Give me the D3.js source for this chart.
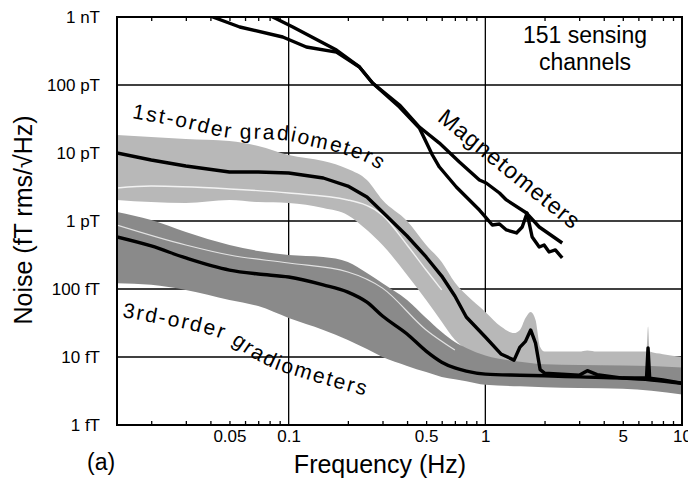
<!DOCTYPE html>
<html>
<head>
<meta charset="utf-8">
<script src="https://cdn.jsdelivr.net/npm/d3@7"></script>
<style>
  body { margin: 0; background: #fff; }
  svg { display: block; font-family: "Liberation Sans", Arial, Helvetica, sans-serif; }
</style>
</head>
<body>
<svg width="688" height="478"></svg>
<script>
// ---- data (frequency in Hz, noise in fT/sqrt(Hz)) ----

// 1st-order gradiometers: spread of channels + average
const g1Freq  = [0.0134, 0.02, 0.03, 0.05, 0.07, 0.1, 0.15, 0.2, 0.25, 0.3, 0.4, 0.5, 0.6, 0.7, 0.8, 1.0, 1.2, 1.4, 1.5, 1.6, 1.7, 1.8, 1.9, 2.0, 3.0, 3.3, 3.7, 5.0, 6.6, 6.72, 6.85, 8.0, 10]
const g1Upper = [18400, 17200, 16100, 15000, 12700, 9350, 7630, 5820, 4010, 2040, 1000, 444, 250, 125, 82, 46, 28, 22.5, 25, 37.5, 46, 35, 14, 12, 12, 12.5, 12, 12, 12, 28, 12, 11, 10]
const g1Lower = [2040, 1900, 1840, 2040, 1900, 1840, 1550, 1220, 738, 444, 161, 69, 33, 18, 12.7, 6, 4.5, 4.1, 4.1, 4.1, 4.1, 4.0, 4.0, 4.0, 3.8, 3.8, 3.7, 3.6, 3.5, 3.5, 3.5, 3.4, 3.3]
const g1Mean  = [10000, 7890, 6440, 5260, 5260, 5080, 4290, 3270, 2260, 1360, 602, 296, 155, 79, 38.7, 19.7, 11.1, 9.0, 14, 17, 25, 16, 6.5, 5.8, 5.4, 6.3, 5.5, 4.9, 4.9, 13.6, 4.9, 4.6, 4.1]

// 3rd-order gradiometers
const g3Freq  = [0.0134, 0.02, 0.03, 0.05, 0.07, 0.1, 0.15, 0.2, 0.25, 0.3, 0.4, 0.5, 0.6, 0.7, 0.8, 1.0, 1.5, 2.0, 3.0, 5.0, 7.0, 10]
const g3Upper = [1360, 1035, 689, 444, 362, 316, 296, 250, 172, 122, 69, 37.5, 23.3, 16.6, 13.6, 10.5, 8.5, 7.8, 7.6, 7.5, 7.4, 7.0]
const g3Lower = [122, 115, 97, 69, 56, 37.5, 25, 17.8, 13.1, 10, 7.4, 6.0, 5.1, 4.7, 4.4, 3.9, 3.7, 3.6, 3.5, 3.4, 3.2, 2.8]
const g3Mean  = [582, 429, 286, 190, 166, 150, 115, 90, 64, 40, 21.8, 12.2, 8.4, 6.9, 6.2, 5.6, 5.4, 5.3, 5.1, 4.9, 4.6, 4.1]

// a couple of individual channel traces showing as light streaks inside the spreads
const w1Freq = [0.0134, 0.02, 0.05, 0.1, 0.2, 0.3, 0.4, 0.5, 0.6]
const w1Val  = [3060, 3270, 2960, 2580, 2040, 1220, 444, 190, 97]
const w3Freq = [0.0134, 0.03, 0.05, 0.1, 0.2, 0.3, 0.5, 0.7]
const w3Val  = [873, 444, 316, 241, 178, 103, 25, 12.7]

// magnetometers (two traces)
const mag1Freq = [0.035, 0.0411, 0.0564, 0.0933, 0.123, 0.175, 0.229, 0.267, 0.366, 0.462, 0.538, 0.584, 0.712, 0.933, 1.0, 1.085, 1.18, 1.28, 1.44, 1.54, 1.63, 1.73, 1.88, 1.99, 2.11, 2.27, 2.46]
const mag1Val  = [1.18e6, 1.0e6, 713000, 508000, 362000, 305000, 184000, 107000, 47500, 23300, 9350, 6220, 3160, 1450, 1150, 873, 903, 738, 667, 816, 1310, 582, 415, 444, 350, 375, 286]
const mag2Freq = [0.075, 0.083, 0.105, 0.175, 0.229, 0.267, 0.366, 0.462, 0.584, 0.738, 0.933, 1.01, 1.18, 1.28, 1.62, 1.88, 2.46]
const mag2Val  = [1.2e6, 1.0e6, 713000, 327000, 184000, 107000, 50800, 24100, 14000, 7380, 4010, 3620, 2580, 2040, 1310, 816, 475]

// axes
const xTickVals   = [0.05, 0.1, 0.5, 1, 5, 10]
const xTickLabels = ['0.05', '0.1', '0.5', '1', '5', '10']
const yTickVals   = [1, 10, 100, 1e3, 1e4, 1e5, 1e6]
const yTickLabels = ['1 fT', '10 fT', '100 fT', '1 pT', '10 pT', '100 pT', '1 nT']
const xGridVals   = [0.1, 1]

// curved labels, anchored in data coordinates [Hz, fT]
const label1Anchors   = [[0.01596, 32700], [0.028, 24100], [0.0502, 16600], [0.0713, 16100], [0.1012, 15000], [0.128, 12700], [0.1815, 10000], [0.258, 6890], [0.345, 3750]]
const label3Anchors   = [[0.0142, 38.7], [0.0197, 32.7], [0.0314, 24.9], [0.0473, 17.8], [0.0634, 10.3], [0.0849, 6.66], [0.1138, 5.08], [0.1616, 3.75], [0.27, 2.49]]
const labelMagAnchors = [[0.564, 30600], [2.765, 738]]

// ---- drawing ----
const svg = d3.select('svg')
const plot = { left: 117, right: 682, top: 17, bottom: 425 }

const x = d3.scaleLog().domain([0.0134, 10]).range([plot.left, plot.right])
const y = d3.scaleLog().domain([1, 1e6]).range([plot.bottom, plot.top])

const defs = svg.append('defs')
defs.append('clipPath').attr('id', 'plot-clip')
  .append('rect')
  .attr('x', plot.left).attr('y', plot.top)
  .attr('width', plot.right - plot.left).attr('height', plot.bottom - plot.top)

// grid
const grid = svg.append('g').attr('stroke', '#000').attr('stroke-width', 1.3)
grid.selectAll('line.h')
  .data(yTickVals.slice(1, -1))
  .enter().append('line')
  .attr('class', 'h')
  .attr('x1', plot.left).attr('x2', plot.right)
  .attr('y1', d => y(d)).attr('y2', d => y(d))
grid.selectAll('line.v')
  .data(xGridVals)
  .enter().append('line')
  .attr('class', 'v')
  .attr('x1', d => x(d)).attr('x2', d => x(d))
  .attr('y1', plot.top).attr('y2', plot.bottom)

const data = svg.append('g').attr('clip-path', 'url(#plot-clip)')

function zipBand(freq, lo, hi) {
  return freq.map((f, i) => ({ f: f, lo: lo[i], hi: hi[i] }))
}
function zipLine(freq, vals) {
  return freq.map((f, i) => ({ f: f, v: vals[i] }))
}

const band = d3.area()
  .x(d => x(d.f))
  .y0(d => y(d.lo))
  .y1(d => y(d.hi))
  .curve(d3.curveMonotoneX)

const smooth = d3.line().x(d => x(d.f)).y(d => y(d.v)).curve(d3.curveMonotoneX)
const jagged = d3.line().x(d => x(d.f)).y(d => y(d.v))

data.append('path')
  .attr('d', band(zipBand(g1Freq, g1Lower, g1Upper)))
  .attr('fill', '#b8b8b8')

data.append('path')
  .attr('d', band(zipBand(g3Freq, g3Lower, g3Upper)))
  .attr('fill', '#8a8a8a')

// light streaks of single channels
data.append('path')
  .attr('d', smooth(zipLine(w1Freq, w1Val)))
  .attr('fill', 'none').attr('stroke', '#f2f2f2').attr('stroke-width', 1.4)
data.append('path')
  .attr('d', smooth(zipLine(w3Freq, w3Val)))
  .attr('fill', 'none').attr('stroke', '#e2e2e2').attr('stroke-width', 1.2)

// averages
data.append('path')
  .attr('d', smooth(zipLine(g3Freq, g3Mean)))
  .attr('fill', 'none').attr('stroke', '#000').attr('stroke-width', 3.4)
data.append('path')
  .attr('d', jagged(zipLine(g1Freq, g1Mean)))
  .attr('fill', 'none').attr('stroke', '#000').attr('stroke-width', 3.4)
  .attr('stroke-linejoin', 'round')

// magnetometers
data.selectAll('path.mag')
  .data([zipLine(mag1Freq, mag1Val), zipLine(mag2Freq, mag2Val)])
  .enter().append('path')
  .attr('class', 'mag')
  .attr('d', d => jagged(d))
  .attr('fill', 'none').attr('stroke', '#000').attr('stroke-width', 3.4)
  .attr('stroke-linejoin', 'round')

// frame
svg.append('rect')
  .attr('x', plot.left).attr('y', plot.top)
  .attr('width', plot.right - plot.left).attr('height', plot.bottom - plot.top)
  .attr('fill', 'none').attr('stroke', '#000').attr('stroke-width', 2)

// minor ticks, inward on bottom and top
let minorTicks = []
;[0.01, 0.1, 1].forEach(dec => {
  for (let k = 2; k <= 9; k++) minorTicks.push(k * dec)
})
minorTicks = minorTicks.filter(v => v > x.domain()[0] && v < x.domain()[1])

svg.append('g')
  .attr('transform', `translate(0,${plot.bottom})`)
  .call(d3.axisBottom(x).tickValues(minorTicks).tickSize(-4).tickFormat(''))
  .call(g => g.select('.domain').remove())
  .selectAll('line').attr('stroke-width', 1.3)

svg.append('g')
  .attr('transform', `translate(0,${plot.top})`)
  .call(d3.axisTop(x).tickValues(minorTicks).tickSize(-4).tickFormat(''))
  .call(g => g.select('.domain').remove())
  .selectAll('line').attr('stroke-width', 1.3)

// tick labels
svg.append('g')
  .attr('transform', `translate(0,${plot.bottom})`)
  .call(d3.axisBottom(x).tickValues(xTickVals).tickSize(0).tickPadding(5)
    .tickFormat((d, i) => xTickLabels[i]))
  .call(g => g.select('.domain').remove())
  .selectAll('text')
  .attr('font-size', 17)
  .attr('font-family', '"Liberation Sans", Arial, sans-serif')
  .attr('fill', '#000')

svg.append('g')
  .attr('transform', `translate(${plot.left},0)`)
  .call(d3.axisLeft(y).tickValues(yTickVals).tickSize(0).tickPadding(17)
    .tickFormat((d, i) => yTickLabels[i]))
  .call(g => g.select('.domain').remove())
  .selectAll('text')
  .attr('font-size', 17)
  .attr('font-family', '"Liberation Sans", Arial, sans-serif')
  .attr('fill', '#000')

// axis titles
svg.append('text')
  .attr('x', 380).attr('y', 473)
  .attr('text-anchor', 'middle')
  .attr('font-size', 25)
  .text('Frequency (Hz)')

svg.append('text')
  .attr('transform', 'translate(32,220) rotate(-90)')
  .attr('text-anchor', 'middle')
  .attr('font-size', 25)
  .text('Noise (fT rms/\u221AHz)')

svg.append('text')
  .attr('x', 87).attr('y', 470)
  .attr('font-size', 23)
  .text('(a)')

// "151 sensing channels"
const note = svg.append('text')
  .attr('text-anchor', 'middle')
  .attr('font-size', 23)
note.append('tspan').attr('x', 585).attr('y', 43).text('151 sensing')
note.append('tspan').attr('x', 585).attr('y', 70).text('channels')

// curved series labels
const labelLine = d3.line().x(d => x(d[0])).y(d => y(d[1])).curve(d3.curveCatmullRom)

defs.append('path').attr('id', 'lab1').attr('d', labelLine(label1Anchors))
defs.append('path').attr('id', 'lab3').attr('d', labelLine(label3Anchors))
defs.append('path').attr('id', 'labM').attr('d', labelLine(labelMagAnchors))

svg.append('text')
  .attr('font-size', 21).attr('letter-spacing', 2)
  .append('textPath').attr('href', '#lab1')
  .text('1st-order gradiometers')

svg.append('text')
  .attr('font-size', 21).attr('letter-spacing', 2)
  .append('textPath').attr('href', '#lab3')
  .text('3rd-order gradiometers')

svg.append('text')
  .attr('font-size', 23).attr('letter-spacing', 1.2)
  .append('textPath').attr('href', '#labM')
  .text('Magnetometers')
</script>
</body>
</html>
